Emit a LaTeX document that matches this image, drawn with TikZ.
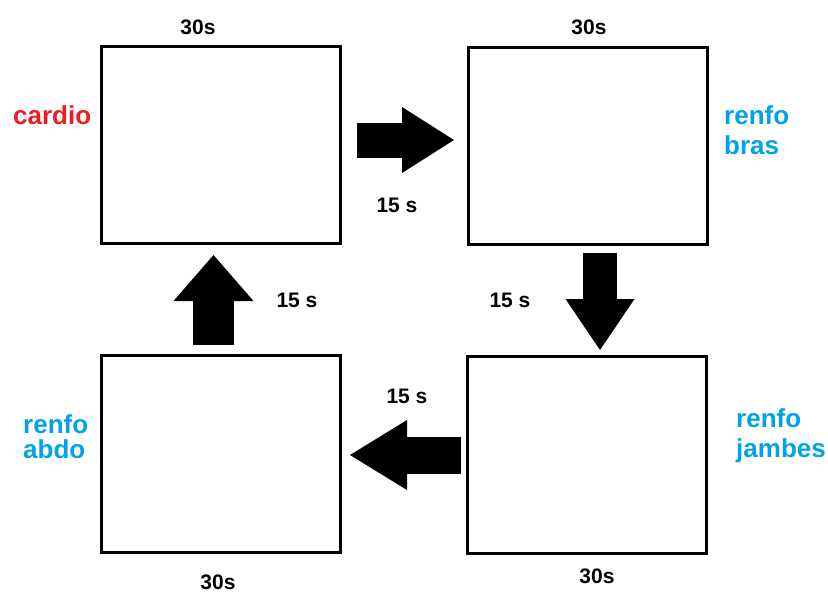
\documentclass[tikz,border=0pt]{standalone}
\usepackage{fontspec}
\setmainfont{Liberation Sans}
\usetikzlibrary{arrows.meta}
\definecolor{paintred}{RGB}{237,28,36}
\definecolor{paintblue}{RGB}{0,162,232}
\tikzstyle{box}=[rectangle, draw=black, line width=3pt, minimum width=239pt, minimum height=197pt, inner sep=0pt, anchor=center]
\tikzstyle{annot}=[align=center, inner sep=0pt, font=\bfseries\fontsize{21}{24}\selectfont]
\tikzstyle{exo}=[align=left, anchor=west, inner sep=0pt, text=paintblue, font=\bfseries\fontsize{26}{30}\selectfont]
\tikzset{bigarrow/.style n args={3}{line width=#1, -{Triangle[length=#2, width=#3, line width=0pt]}}}

\begin{document}
\begin{tikzpicture}[x=1pt, y=-1pt]
	\useasboundingbox (0,0) rectangle (828,592);

	% the four stations
	\node[box] (cardio) at (221,145) {};
	\node[box] (bras) at (588,146) {};
	\node[box] (abdo) at (221,454) {};
	\node[box] (jambes) at (587,455) {};

	\node[exo, text=paintred] (lcardio) at (13,115) {cardio};
	\node[exo] (lbras) at (724,130) {renfo\\bras};
	\node[exo, font=\bfseries\fontsize{26}{25}\selectfont] (labdo) at (23,437) {renfo\\abdo};
	\node[exo] (ljambes) at (736,436) {renfo\\jambes};

	% work time
	\node[annot] (tcardio) at (198,27) {30s};
	\node[annot] (tbras) at (589,27) {30s};
	\node[annot] (tabdo) at (218,582) {30s};
	\node[annot] (tjambes) at (597,576) {30s};

	% rest time
	\node[annot] (r1) at (397,205) {15 s};
	\node[annot] (r2) at (510,300) {15 s};
	\node[annot] (r3) at (407,396) {15 s};
	\node[annot] (r4) at (297,300) {15 s};

	\draw[bigarrow={35pt}{52pt}{66pt}, shorten <=15pt, shorten >=13pt] ([yshift=5pt]cardio.east) -- ([yshift=5pt]cardio.east -| bras.west);
	\draw[bigarrow={34pt}{51pt}{69pt}, shorten <=7pt, shorten >=5pt] ([xshift=12pt]bras.south) -- ([xshift=12pt]bras.south |- jambes.north);
	\draw[bigarrow={37pt}{57pt}{70pt}, shorten <=5pt, shorten >=8pt] (jambes.west) -- (jambes.west -| abdo.east);
	\draw[bigarrow={41pt}{46pt}{80pt}, shorten <=9pt, shorten >=10pt] ([xshift=-7.5pt]abdo.north) -- ([xshift=-7.5pt]abdo.north |- cardio.south);

\end{tikzpicture}
\end{document}
